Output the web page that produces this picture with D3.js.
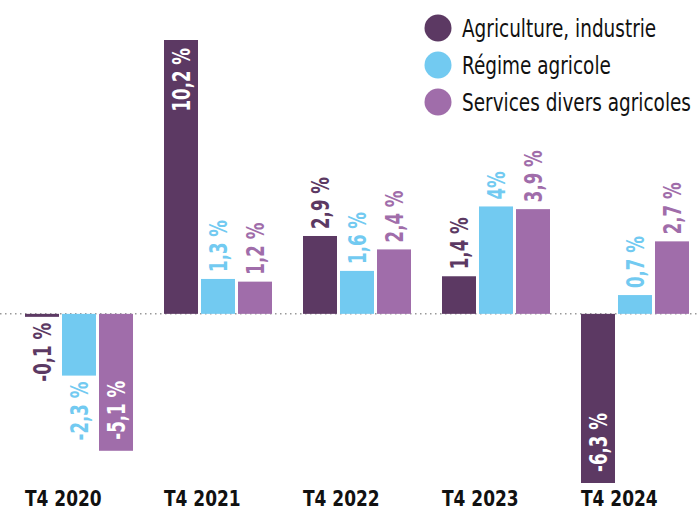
<!DOCTYPE html>
<html>
<head>
<meta charset="utf-8">
<script src="https://cdn.jsdelivr.net/npm/d3@7"></script>
<style>
  body { margin: 0; background: #fff; }
  text { font-family: "DejaVu Sans Condensed", "DejaVu Sans", sans-serif; }
</style>
</head>
<body>
<div class="chart"></div>
<script>
// data
var categories = ['T4 2020', 'T4 2021', 'T4 2022', 'T4 2023', 'T4 2024'];
var seriesNames = ['Agriculture, industrie', 'Régime agricole', 'Services divers agricoles'];
var agriculture = [-0.1, 10.2, 2.9, 1.4, -6.3];
var regime = [-2.3, 1.3, 1.6, 4, 0.7];
var services = [-5.1, 1.2, 2.4, 3.9, 2.7];
var colors = ['#5c3963', '#72caf1', '#a06daa'];

var width = 700;
var height = 510;
var seriesValues = [agriculture, regime, services];

var rows = [];
categories.forEach(function(c, i) {
    seriesNames.forEach(function(s, j) {
        rows.push({ cat: c, series: s, value: seriesValues[j][i], idx: j });
    });
});

var svg = d3.select('.chart')
    .append('svg')
    .attr('width', width)
    .attr('height', height);

var x0 = d3.scaleBand()
    .domain(categories)
    .range([25, 689])
    .paddingInner(0.223)
    .paddingOuter(0);

var x1 = d3.scaleBand()
    .domain(seriesNames)
    .range([0, x0.bandwidth()])
    .paddingInner(0.081);

var y = d3.scaleLinear()
    .domain([-6.3, 10.2])
    .range([483, 40]);

var color = d3.scaleOrdinal().domain(seriesNames).range(colors);

// zero line
svg.append('line')
    .attr('x1', 0).attr('x2', width)
    .attr('y1', y(0)).attr('y2', y(0))
    .attr('stroke', '#999')
    .attr('stroke-width', 1.5)
    .attr('stroke-dasharray', '1.5,3.5');

// bars
svg.selectAll('rect.bar')
    .data(rows)
    .enter()
    .append('rect')
    .attr('class', 'bar')
    .attr('x', function(d) { return x0(d.cat) + x1(d.series); })
    .attr('width', x1.bandwidth())
    .attr('y', function(d) { return Math.min(y(d.value), y(0)); })
    .attr('height', function(d) { return Math.max(Math.abs(y(d.value) - y(0)), 3); })
    .attr('fill', function(d) { return color(d.series); });

function fmt(v) {
    if (Number.isInteger(v)) return v + '%';
    return String(v).replace('.', ',') + ' %';
}

// value labels
svg.selectAll('text.val')
    .data(rows)
    .enter()
    .append('text')
    .attr('class', 'val')
    .attr('transform', function(d) {
        var cx = x0(d.cat) + x1(d.series) + x1.bandwidth() / 2;
        var inside = Math.abs(d.value) > 5;
        var yy;
        if (d.value >= 0) {
            yy = inside ? y(d.value) + 8 : y(d.value) - 7;
        } else {
            var bottom = Math.max(y(d.value), y(0) + 3);
            yy = inside ? bottom - 11 : bottom + 6;
        }
        return 'translate(' + (cx + 9) + ',' + yy + ') rotate(-90) scale(0.74,1)';
    })
    .attr('text-anchor', function(d) {
        var inside = Math.abs(d.value) > 5;
        if (d.value >= 0) return inside ? 'end' : 'start';
        return inside ? 'start' : 'end';
    })
    .attr('font-size', 25)
    .attr('font-weight', 'bold')
    .attr('fill', function(d) { return Math.abs(d.value) > 5 ? '#fff' : color(d.series); })
    .text(function(d) { return fmt(d.value); });

// category labels
svg.selectAll('text.cat')
    .data(categories)
    .enter()
    .append('text')
    .attr('class', 'cat')
    .attr('transform', function(d) { return 'translate(' + x0(d) + ',506) scale(0.86,1)'; })
    .attr('font-size', 22)
    .attr('font-weight', 'bold')
    .attr('fill', '#111')
    .text(function(d) { return d; });

// legend
var legend = svg.selectAll('.legend')
    .data(seriesNames)
    .enter()
    .append('g')
    .attr('class', 'legend')
    .attr('transform', function(d, i) { return 'translate(438,' + (28 + i * 37) + ')'; });
legend.append('circle')
    .attr('r', 13.5)
    .attr('fill', color);
legend.append('text')
    .attr('transform', 'translate(24,9) scale(0.82,1)')
    .attr('font-size', 25)
    .attr('fill', '#111')
    .text(function(d) { return d; });
</script>
</body>
</html>
